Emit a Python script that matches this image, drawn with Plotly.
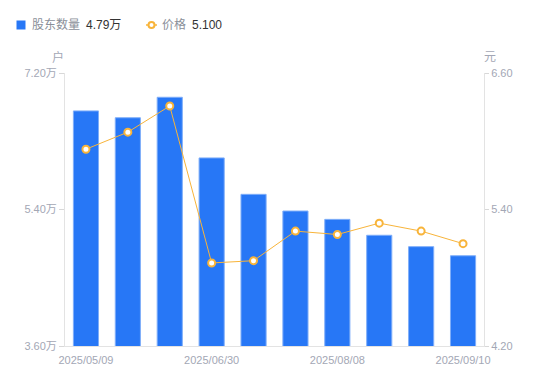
import plotly.graph_objects as go

# ---- data ----
holders = [6.70, 6.61, 6.88, 6.08, 5.60, 5.38, 5.27, 5.06, 4.91, 4.79]   # 万户
price = [5.93, 6.08, 6.31, 4.93, 4.95, 5.21, 5.18, 5.28, 5.21, 5.10]     # 元
date_labels = ["2025/05/09", "2025/06/30", "2025/08/08", "2025/09/10"]
date_index = [0, 3, 6, 9]
y1_ticks = [3.60, 5.40, 7.20]
y2_ticks = [4.20, 5.40, 6.60]

x = list(range(len(holders)))

FONT = "Liberation Sans, Noto Sans CJK SC, sans-serif"
BLUE = "#2777F6"
ORANGE = "#F8B43A"
TICK_GRAY = "#A3A7B5"
AXIS_GRAY = "#E3E3E3"

W, H = 550, 381
ML, MR, MT, MB = 65, 66, 73, 35
PW = W - ML - MR
PH = H - MT - MB


def px(xp):
    return (xp - ML) / PW


def py(yp):
    return (H - MB - yp) / PH


fig = go.Figure()
fig.add_trace(go.Bar(
    x=x, y=holders, width=0.6,
    marker=dict(color=BLUE, line=dict(color="#7FAEF9", width=1)),
    showlegend=False, hoverinfo="skip",
))
fig.add_trace(go.Scatter(
    x=x, y=price, yaxis="y2", mode="lines+markers",
    line=dict(color=ORANGE, width=1),
    marker=dict(symbol="circle", size=7, color="white",
                line=dict(color=ORANGE, width=2)),
    showlegend=False, hoverinfo="skip",
))

fig.update_layout(
    width=W, height=H,
    margin=dict(l=ML, r=MR, t=MT, b=MB, autoexpand=False),
    paper_bgcolor="white", plot_bgcolor="white",
    font=dict(family=FONT, size=11, color=TICK_GRAY),
    bargap=0.4,
    xaxis=dict(
        range=[-0.5, len(holders) - 0.5],
        tickvals=date_index, ticktext=date_labels,
        showgrid=False, zeroline=False,
        showline=True, linecolor=AXIS_GRAY, linewidth=1,
        ticks="", ticklabelstandoff=4,
        tickfont=dict(size=11, color=TICK_GRAY),
    ),
    yaxis=dict(
        range=[y1_ticks[0], y1_ticks[-1]],
        tickvals=y1_ticks, ticktext=[f"{v:.2f}万" for v in y1_ticks],
        showgrid=False, zeroline=False,
        showline=True, linecolor=AXIS_GRAY, linewidth=1,
        ticks="outside", ticklen=5, tickcolor="#D8D8D8", tickwidth=1,
        tickfont=dict(size=11, color=TICK_GRAY),
    ),
    yaxis2=dict(
        range=[y2_ticks[0], y2_ticks[-1]],
        tickvals=y2_ticks, ticktext=[f"{v:.2f}" for v in y2_ticks],
        overlaying="y", side="right",
        showgrid=False, zeroline=False,
        showline=True, linecolor=AXIS_GRAY, linewidth=1,
        ticks="outside", ticklen=4, tickcolor="#D8D8D8", tickwidth=1,
        tickfont=dict(size=11, color=TICK_GRAY),
    ),
)

# unit labels
fig.add_annotation(text="户", xref="paper", yref="paper", x=px(58), y=py(57),
                   xanchor="center", yanchor="middle", showarrow=False,
                   font=dict(size=12, color=TICK_GRAY, family=FONT))
fig.add_annotation(text="元", xref="paper", yref="paper", x=px(490), y=py(57),
                   xanchor="center", yanchor="middle", showarrow=False,
                   font=dict(size=12, color=TICK_GRAY, family=FONT))

# custom legend
LY = 25
fig.add_shape(type="rect", xref="paper", yref="paper",
              x0=px(16.5), x1=px(25.5), y0=py(29.5), y1=py(20.5),
              fillcolor=BLUE, line=dict(width=0))
fig.add_annotation(text="股东数量", xref="paper", yref="paper", x=px(30), y=py(LY),
                   xanchor="left", yanchor="middle", showarrow=False,
                   font=dict(size=12, color="#8A8F99", family=FONT))
fig.add_annotation(text=f"{holders[-1]:.2f}万", xref="paper", yref="paper", x=px(84), y=py(LY),
                   xanchor="left", yanchor="middle", showarrow=False,
                   font=dict(size=12, color="#333333", family=FONT))
fig.add_shape(type="line", xref="paper", yref="paper",
              x0=px(146), x1=px(157), y0=py(LY), y1=py(LY),
              line=dict(color=ORANGE, width=1.5))
fig.add_shape(type="circle", xref="paper", yref="paper",
              x0=px(148.5), x1=px(154.5), y0=py(28), y1=py(22),
              fillcolor="white", line=dict(color=ORANGE, width=2))
fig.add_annotation(text="价格", xref="paper", yref="paper", x=px(160), y=py(LY),
                   xanchor="left", yanchor="middle", showarrow=False,
                   font=dict(size=12, color="#8A8F99", family=FONT))
fig.add_annotation(text=f"{price[-1]:.3f}", xref="paper", yref="paper", x=px(190), y=py(LY),
                   xanchor="left", yanchor="middle", showarrow=False,
                   font=dict(size=12, color="#333333", family=FONT))

fig.write_html("out.html", config={"displayModeBar": False},
               post_script="document.body.style.margin='0';document.body.style.overflow='hidden';")
